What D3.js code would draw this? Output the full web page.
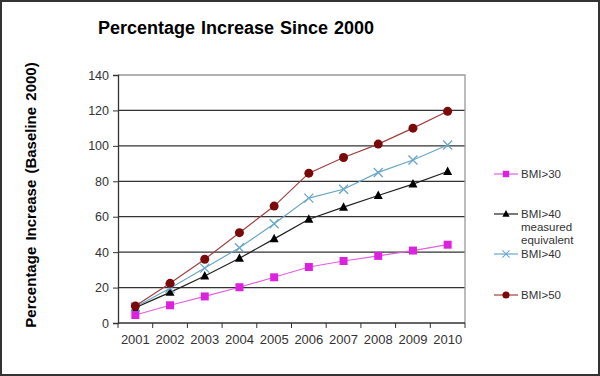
<!DOCTYPE html>
<html>
<head>
<meta charset="utf-8">
<script src="https://cdn.jsdelivr.net/npm/d3@7"></script>
<style>
  body { margin: 0; background: #fff; }
  text { font-family: "Liberation Sans", Arial, sans-serif; }
</style>
</head>
<body>
<div id="chart"></div>
<script>
const years = ["2001", "2002", "2003", "2004", "2005", "2006", "2007", "2008", "2009", "2010"];
const bmi30 = [4.5, 10, 15, 20.2, 25.8, 31.6, 35, 37.9, 40.9, 44.2];
const bmi40Measured = [8.7, 17.3, 26.5, 36.5, 47.5, 58.6, 65.4, 72, 78.4, 85.5];
const bmi40 = [9, 19.6, 31, 42.5, 56, 70.5, 75.5, 85, 92, 100.5];
const bmi50 = [9.6, 22.4, 36, 51, 66, 84.6, 93.4, 101, 110, 119.5];
const yTicks = [0, 20, 40, 60, 80, 100, 120, 140];

const series = [
  { name: ["BMI>30"], values: bmi30, color: "#dd22dd", line: "#e060e0", marker: "square", ly: 174 },
  { name: ["BMI>40", "measured", "equivalent"], values: bmi40Measured, color: "#000", line: "#222", marker: "triangle", ly: 214 },
  { name: ["BMI>40"], values: bmi40, color: "#6aa6c8", line: "#6aa6c8", marker: "cross", ly: 254 },
  { name: ["BMI>50"], values: bmi50, color: "#7a0a0a", line: "#a04040", marker: "circle", ly: 295 }
];

const W = 600, H = 376;
const margin = { top: 75, right: 135, bottom: 53, left: 118 },
  width = W - margin.left - margin.right,
  height = H - margin.top - margin.bottom;

const svg = d3.select("#chart")
  .append("svg")
  .attr("width", W)
  .attr("height", H);

// outer frame
svg.append("rect")
  .attr("x", 1).attr("y", 1)
  .attr("width", W - 2).attr("height", H - 2)
  .attr("fill", "#fff")
  .attr("stroke", "#333")
  .attr("stroke-width", 2);

svg.append("text")
  .attr("x", 236)
  .attr("y", 34)
  .attr("text-anchor", "middle")
  .style("font-size", "18px")
  .style("font-weight", "bold")
  .style("word-spacing", "1px")
  .text("Percentage Increase Since 2000");

const chart = svg.append("g")
  .attr("transform", `translate(${margin.left},${margin.top})`);

const x = d3.scaleBand()
  .domain(years)
  .range([0, width]);

const y = d3.scaleLinear()
  .domain([0, 140])
  .range([height, 0]);

// gridlines
chart.append("g")
  .selectAll("line")
  .data(yTicks.filter(t => t > 0 && t < 140))
  .join("line")
  .attr("x1", 0).attr("x2", width)
  .attr("y1", d => y(d)).attr("y2", d => y(d))
  .attr("stroke", "#333")
  .attr("stroke-width", 1.3);

// plot border top/right
chart.append("path")
  .attr("d", `M0,${y(140)}H${width}V${height}`)
  .attr("fill", "none")
  .attr("stroke", "#999")
  .attr("stroke-width", 1.3);

const yAxis = chart.append("g")
  .call(d3.axisLeft(y).tickValues(yTicks).tickSize(5).tickPadding(4));
yAxis.select(".domain").attr("stroke", "#333").attr("stroke-width", 1.3);
yAxis.selectAll(".tick line").attr("stroke", "#333");
yAxis.selectAll("text").attr("fill", "#333").style("font-size", "12.5px");

const xAxis = chart.append("g")
  .attr("transform", `translate(0,${height})`);
xAxis.append("line")
  .attr("x1", 0).attr("x2", width)
  .attr("stroke", "#333").attr("stroke-width", 1.3);
xAxis.selectAll(".xt")
  .data(years.concat(["end"]))
  .join("line")
  .attr("x1", (d, i) => i * x.step()).attr("x2", (d, i) => i * x.step())
  .attr("y1", 0).attr("y2", 5)
  .attr("stroke", "#333");
xAxis.selectAll("text")
  .data(years)
  .join("text")
  .attr("x", d => x(d) + x.bandwidth() / 2)
  .attr("y", 21)
  .attr("text-anchor", "middle")
  .attr("fill", "#333")
  .style("font-size", "13px")
  .text(d => d);

svg.append("text")
  .attr("transform", "rotate(-90)")
  .attr("x", -195)
  .attr("y", 36)
  .attr("text-anchor", "middle")
  .style("font-size", "15px")
  .style("font-weight", "bold")
  .style("word-spacing", "2px")
  .text("Percentage Increase (Baseline 2000)");

function drawMarker(g, s) {
  if (s.marker === "square") {
    g.append("rect").attr("x", -4).attr("y", -4).attr("width", 8).attr("height", 8).attr("fill", s.color);
  } else if (s.marker === "triangle") {
    g.append("path").attr("d", "M0,-5L4.5,3.5L-4.5,3.5Z").attr("fill", s.color);
  } else if (s.marker === "cross") {
    g.append("path").attr("d", "M-4.5,-4.5L4.5,4.5M-4.5,4.5L4.5,-4.5").attr("stroke", s.color).attr("stroke-width", 1.3);
  } else {
    g.append("circle").attr("r", 4.5).attr("fill", s.color);
  }
}

const line = d3.line()
  .x((d, i) => x(years[i]) + x.bandwidth() / 2)
  .y(d => y(d));

series.forEach(s => {
  chart.append("path")
    .datum(s.values)
    .attr("d", line)
    .attr("fill", "none")
    .attr("stroke", s.line)
    .attr("stroke-width", 1.2);
  s.values.forEach((v, i) => {
    const g = chart.append("g")
      .attr("transform", `translate(${x(years[i]) + x.bandwidth() / 2},${y(v)})`);
    drawMarker(g, s);
  });
});

// Legend
series.forEach(s => {
  const g = svg.append("g").attr("transform", `translate(494, ${s.ly})`);
  g.append("line").attr("x1", 0).attr("x2", 24).attr("stroke", s.line).attr("stroke-width", 1.2);
  const m = g.append("g").attr("transform", "translate(12,0) scale(0.8)");
  drawMarker(m, s);
  g.selectAll("text")
    .data(s.name)
    .join("text")
    .attr("x", 27)
    .attr("y", (d, i) => 4 + i * 13)
    .attr("fill", "#333")
    .style("font-size", "11.5px")
    .text(d => d);
});
</script>
</body>
</html>
